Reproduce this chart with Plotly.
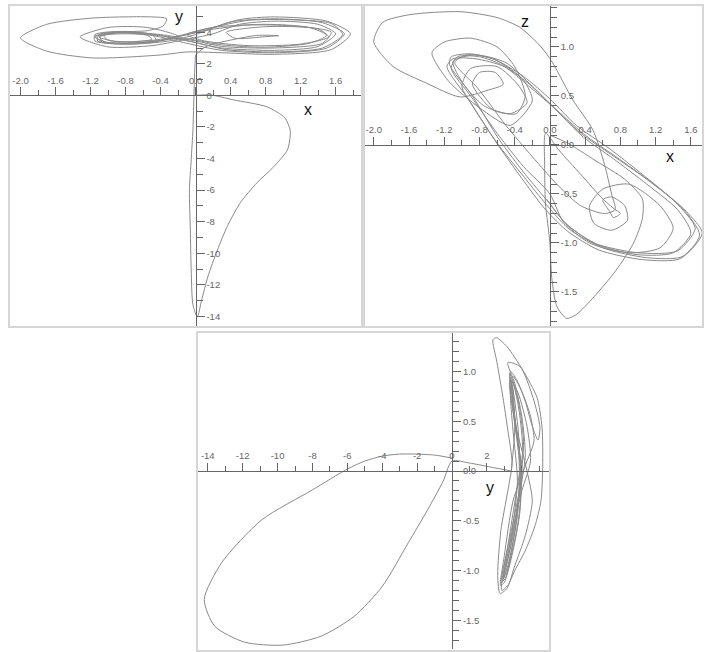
import plotly.graph_objects as go

# ---------------- tick values ----------------
p1_x_ticks = [-2.0, -1.6, -1.2, -0.8, -0.4, 0.0, 0.4, 0.8, 1.2, 1.6]
p1_x_minor = [-1.8, -1.4, -1.0, -0.6, -0.2, 0.2, 0.6, 1.0, 1.4, 1.8]
p1_y_ticks = [-14, -12, -10, -8, -6, -4, -2, 0, 2, 4]
p1_y_minor = [-13, -11, -9, -7, -5, -3, -1, 1, 3, 5]
p2_x_ticks = [-2.0, -1.6, -1.2, -0.8, -0.4, 0.0, 0.4, 0.8, 1.2, 1.6]
p2_x_minor = [-1.8, -1.4, -1.0, -0.6, -0.2, 0.2, 0.6, 1.0, 1.4]
p2_z_ticks = [-1.5, -1.0, -0.5, 0.0, 0.5, 1.0]
p2_z_minor = [-1.8, -1.7, -1.6, -1.4, -1.3, -1.2, -1.1, -0.9, -0.8, -0.7, -0.6,
              -0.4, -0.3, -0.2, -0.1, 0.1, 0.2, 0.3, 0.4, 0.6, 0.7, 0.8, 0.9,
              1.1, 1.2, 1.3, 1.4]
p3_y_ticks = [-14, -12, -10, -8, -6, -4, -2, 0, 2]
p3_y_minor = [-13, -11, -9, -7, -5, -3, -1, 1, 3, 4, 5]
p3_z_ticks = [-1.5, -1.0, -0.5, 0.0, 0.5, 1.0]
p3_z_minor = [-1.7, -1.6, -1.4, -1.3, -1.2, -1.1, -0.9, -0.8, -0.7, -0.6,
              -0.4, -0.3, -0.2, -0.1, 0.1, 0.2, 0.3, 0.4, 0.6, 0.7, 0.8, 0.9,
              1.1, 1.2, 1.3]

# ---------------- panel 1 : x - y ----------------
p1_transient = [
    (0.0, 0.0), (0.17, 0.03), (0.43, -0.28), (0.82, -0.73), (1.02, -1.42),
    (1.08, -2.18), (1.08, -2.63), (1.05, -3.45), (0.89, -4.53), (0.70, -5.54),
    (0.51, -6.80), (0.36, -8.32), (0.25, -9.78), (0.14, -11.49), (0.07, -12.94),
    (0.02, -14.02), (-0.03, -13.26), (-0.05, -11.04), (-0.06, -8.51),
    (-0.07, -5.98), (-0.05, -4.08), (-0.03, -2.18), (-0.02, -0.28),
    (-0.01, 1.61), (0.0, 2.56)]
p1_attractor = [
    (0.0, 2.56), (0.12, 3.1), (0.4, 3.5), (0.7, 3.8), (0.95, 3.78), (0.8, 3.72),
    (0.45, 3.62), (0.35, 4.0), (0.8, 4.35), (1.4, 4.2), (1.52, 3.7),
    (1.2, 3.25), (0.6, 3.15), (0.1, 3.45),
    (-0.1, 3.85), (0.2, 4.3), (0.8, 4.5), (1.3, 4.3), (1.5, 3.8),
    (1.3, 3.3), (0.8, 3.05), (0.3, 3.2), (-0.05, 3.55),
    (-0.4, 3.85), (-0.8, 4.0), (-1.05, 3.8), (-1.0, 3.5), (-0.75, 3.4),
    (-0.5, 3.55), (-0.55, 3.8), (-0.85, 3.9), (-1.1, 3.75), (-1.05, 3.4),
    (-0.7, 3.3), (-0.35, 3.5), (-0.2, 3.75), (-0.55, 4.3), (-1.0, 4.3),
    (-1.32, 3.7), (-1.0, 3.07), (-0.5, 3.15), (-0.15, 3.5),
    (0.2, 3.9), (0.5, 4.5), (0.9, 4.7), (1.4, 4.5), (1.6, 3.9), (1.4, 3.1),
    (0.9, 2.85), (0.3, 3.0), (-0.05, 3.4),
    (-0.4, 3.8), (-0.8, 4.05), (-1.1, 3.85), (-1.12, 3.45), (-0.8, 3.3),
    (-0.45, 3.5), (-0.5, 3.85), (-0.9, 4.0), (-1.15, 3.75), (-1.05, 3.35),
    (-0.7, 3.25), (-0.3, 3.45),
    (0.0, 3.85), (0.4, 4.65), (0.9, 4.85), (1.45, 4.6), (1.7, 3.9), (1.5, 3.0),
    (0.9, 2.7), (0.3, 2.85), (-0.1, 3.3),
    (-0.45, 3.75), (-0.85, 4.05), (-1.15, 3.85), (-1.15, 3.45), (-0.85, 3.25),
    (-0.5, 3.35), (-0.3, 3.6),
    (0.1, 4.1), (0.5, 4.8), (0.9, 4.97), (1.5, 4.7), (1.77, 3.9), (1.55, 2.9),
    (0.9, 2.6), (0.3, 2.7), (-0.1, 2.75),
    (-0.4, 2.56), (-1.17, 2.37), (-1.7, 2.8), (-2.0, 3.64), (-1.7, 4.5),
    (-1.17, 4.9), (-0.5, 4.97), (-0.33, 4.85), (-0.37, 4.4), (-0.55, 4.1),
    (-0.9, 4.0), (-1.15, 3.7), (-1.0, 3.35), (-0.6, 3.35), (-0.3, 3.6),
    (0.1, 4.1), (0.6, 4.45), (1.1, 4.4), (1.55, 4.0), (1.45, 3.3), (0.9, 3.0),
    (0.3, 3.1), (0.0, 3.45),
    (-0.45, 3.8), (-0.9, 3.95), (-1.1, 3.7), (-0.9, 3.4), (-0.55, 3.45),
    (-0.25, 3.7),
    (0.15, 4.25), (0.6, 4.75), (1.0, 4.8), (1.55, 4.55), (1.68, 3.85),
    (1.45, 3.0), (0.9, 2.75), (0.35, 2.9), (0.0, 3.35), (-0.35, 3.75)]

# ---------------- panel 2 : x - z ----------------
p2_transient = [
    (0.0, 0.1), (0.2, 0.02), (0.5, -0.15), (0.85, -0.35), (1.05, -0.55),
    (1.05, -0.75), (0.95, -1.0), (0.75, -1.28), (0.5, -1.55), (0.3, -1.73),
    (0.19, -1.77), (0.08, -1.65), (0.02, -1.35), (0.0, -1.0), (-0.05, -0.6),
    (-0.06, -0.2), (-0.05, 0.12), (0.1, -0.05), (0.35, -0.3), (0.6, -0.55),
    (0.74, -0.66)]
p2_attractor = [
    (0.74, -0.66), (0.8, -0.7), (0.72, -0.74), (0.68, -0.68), (0.6, -0.56),
    (0.7, -0.53), (0.85, -0.62), (0.88, -0.77), (0.7, -0.87), (0.5, -0.8),
    (0.45, -0.62), (0.6, -0.45),
    (0.9, -0.4), (1.25, -0.62), (1.4, -0.85), (1.25, -1.05), (0.9, -1.1),
    (0.45, -1.0), (0.15, -0.78), (0.0, -0.5),
    (-0.3, -0.22), (-0.6, 0.12), (-0.9, 0.5), (-1.12, 0.78), (-1.05, 0.9),
    (-0.8, 0.9), (-0.55, 0.82), (-0.26, 0.64), (0.0, 0.42), (0.35, 0.12),
    (0.7, -0.1), (1.1, -0.35), (1.5, -0.64), (1.7, -0.92), (1.5, -1.14),
    (1.1, -1.15), (0.6, -1.05), (0.22, -0.86), (-0.03, -0.62), (-0.3, -0.32),
    (-0.6, 0.02), (-0.88, 0.4), (-1.0, 0.6), (-0.9, 0.78), (-0.6, 0.8),
    (-0.35, 0.6), (-0.26, 0.43), (-0.45, 0.32), (-0.75, 0.4), (-0.98, 0.62),
    (-1.1, 0.85), (-0.85, 0.92), (-0.5, 0.84), (-0.2, 0.6),
    (0.05, 0.38), (0.4, 0.1), (0.75, -0.12), (1.15, -0.38), (1.55, -0.68),
    (1.73, -0.9), (1.48, -1.16), (1.05, -1.17), (0.55, -1.07), (0.2, -0.88),
    (-0.05, -0.66), (-0.32, -0.34), (-0.62, 0.04), (-0.92, 0.46),
    (-1.17, 0.8), (-1.1, 0.88), (-0.85, 0.88), (-0.52, 0.8), (-0.24, 0.6),
    (0.02, 0.4), (0.38, 0.08), (0.72, -0.14), (1.1, -0.4), (1.45, -0.66),
    (1.6, -0.9), (1.4, -1.1), (1.0, -1.12), (0.55, -1.02), (0.2, -0.82),
    (-0.02, -0.58), (-0.28, -0.3), (-0.58, 0.06), (-0.88, 0.5), (-1.14, 0.82),
    (-1.12, 0.9), (-0.9, 0.93), (-0.6, 0.86), (-0.3, 0.66), (-0.2, 0.45),
    (-0.45, 0.2), (-0.8, 0.38), (-1.15, 0.65), (-1.34, 0.94), (-1.2, 1.05),
    (-0.9, 1.09), (-0.6, 1.0), (-0.4, 0.8), (-0.28, 0.5), (-0.38, 0.32),
    (-0.65, 0.36), (-0.88, 0.62), (-0.8, 0.74), (-0.62, 0.74), (-0.53, 0.62),
    (-0.7, 0.56), (-1.02, 0.49), (-1.4, 0.63), (-1.78, 0.8), (-2.0, 1.05),
    (-1.9, 1.25), (-1.59, 1.33), (-1.02, 1.36), (-0.6, 1.3), (-0.34, 1.2),
    (-0.1, 1.0), (0.03, 0.84), (0.26, 0.46), (0.49, 0.15), (0.62, -0.2),
    (0.7, -0.5), (0.74, -0.66), (0.62, -0.7), (0.35, -0.62), (0.1, -0.42),
    (-0.2, -0.12), (-0.5, 0.2), (-0.82, 0.58), (-1.08, 0.84), (-0.95, 0.92),
    (-0.65, 0.88), (-0.3, 0.7), (0.0, 0.47), (0.3, 0.2), (0.68, -0.04),
    (1.05, -0.3), (1.42, -0.58), (1.65, -0.85), (1.45, -1.08), (1.0, -1.1),
    (0.5, -1.0), (0.18, -0.8), (-0.04, -0.55)]

# ---------------- panel 3 : y - z ----------------
p3_transient = [
    (0.0, 0.13), (-1.0, 0.16), (-2.1, 0.17), (-3.0, 0.17), (-4.0, 0.15),
    (-5.0, 0.1), (-6.0, 0.02), (-8.0, -0.19), (-10.9, -0.49), (-13.2, -0.92),
    (-14.2, -1.29), (-13.6, -1.56), (-11.9, -1.72), (-9.7, -1.75),
    (-7.5, -1.66), (-5.6, -1.46), (-4.0, -1.16), (-2.5, -0.72), (-1.4, -0.39),
    (-0.5, -0.1), (0.0, 0.1), (1.0, 0.08), (2.2, 0.04), (3.4, 0.0)]
p3_attractor = [
    (3.4, 0.0), (3.6, 0.45), (3.45, 0.85), (3.35, 0.8), (3.5, 0.4),
    (3.75, -0.1), (3.45, -0.6), (2.95, -1.05), (3.05, -1.0), (3.55, -0.6),
    (3.9, -0.1), (3.8, 0.4), (3.5, 0.82), (3.38, 0.92),
    (3.6, 0.55), (3.95, 0.0), (3.65, -0.55), (3.05, -1.08), (2.82, -1.12),
    (3.2, -0.75), (3.7, -0.2), (4.05, 0.2), (3.85, 0.6), (3.5, 0.9),
    (3.3, 0.98),
    (3.5, 0.6), (3.85, 0.1), (3.75, -0.45), (3.2, -0.95), (2.9, -1.1),
    (3.3, -0.8), (3.85, -0.25), (4.2, 0.15), (4.0, 0.55), (3.6, 0.88),
    (3.2, 1.09), (3.9, 1.05), (4.64, 0.74), (5.04, 0.44), (4.93, 0.31),
    (4.6, 0.45), (4.2, 0.7), (3.7, 0.92), (3.35, 1.0), (3.55, 0.6),
    (3.95, 0.05), (3.9, -0.4), (3.5, -0.8), (3.0, -1.12), (2.78, -1.15),
    (3.0, -0.85), (3.5, -0.3), (4.3, 0.1), (4.7, 0.3), (4.5, 0.55),
    (4.0, 0.8), (3.5, 0.95), (3.3, 0.9), (3.6, 0.5), (4.3, 0.0),
    (4.6, -0.3), (4.2, -0.65), (3.6, -0.95), (3.15, -1.18), (2.75, -1.23),
    (2.62, -1.05), (2.8, -0.6), (3.2, -0.2), (3.44, 0.08), (3.2, 0.41),
    (2.92, 0.74), (2.58, 1.09), (2.35, 1.32), (2.55, 1.34), (3.15, 1.25),
    (4.07, 1.01), (4.87, 0.74), (5.16, 0.44), (5.2, 0.05), (5.1, -0.3),
    (4.76, -0.55), (4.2, -0.8), (3.6, -1.0), (3.2, -1.15), (2.85, -1.2),
    (2.95, -1.0), (3.4, -0.6), (3.9, -0.15), (4.1, 0.3), (3.8, 0.7),
    (3.45, 0.9),
    (3.6, 0.5), (4.0, 0.0), (3.8, -0.5), (3.25, -0.95), (2.95, -1.08),
    (3.35, -0.7), (4.0, -0.2), (4.5, 0.1), (4.3, 0.45), (3.8, 0.78),
    (3.4, 0.92)]

# ---------------- layout helpers ----------------
W, H = 705, 652
AX = "#666666"
TICKFONT = dict(family="Liberation Sans, Arial, sans-serif", size=9.5, color="#666666")
CURVE = dict(color="#8a8a8a", width=1, shape="spline", smoothing=0.7)


def xdom(a, b):
    return [a / W, b / W]


def ydom(top, bottom):
    return [1 - bottom / H, 1 - top / H]


def fmt(v, dec):
    return f"{v:.{dec}f}"


def h_axis(dx, dy, rng, other_rng, ticks, minor, dec, minor_len=5):
    pos = dy[0] + (0 - other_rng[0]) / (other_rng[1] - other_rng[0]) * (dy[1] - dy[0])
    return dict(domain=dx, range=list(rng), anchor="free", position=pos,
                side="top", showgrid=False, zeroline=False, showline=True,
                linecolor=AX, linewidth=1, ticks="outside", ticklen=8,
                tickcolor=AX, tickwidth=1, tickmode="array", tickvals=ticks,
                ticktext=[fmt(v, dec) for v in ticks], tickfont=TICKFONT,
                fixedrange=True,
                minor=dict(tickmode="array", tickvals=minor, ticks="outside",
                           ticklen=minor_len, tickcolor=AX, tickwidth=1,
                           showgrid=False))


def v_axis(dy, dx, rng, other_rng, ticks, minor, dec, minor_len=6):
    pos = dx[0] + (0 - other_rng[0]) / (other_rng[1] - other_rng[0]) * (dx[1] - dx[0])
    return dict(domain=dy, range=list(rng), anchor="free", position=pos,
                side="right", showgrid=False, zeroline=False, showline=True,
                linecolor=AX, linewidth=1, ticks="outside", ticklen=8,
                tickcolor=AX, tickwidth=1, tickmode="array", tickvals=ticks,
                ticktext=[fmt(v, dec) for v in ticks], tickfont=TICKFONT,
                fixedrange=True,
                minor=dict(tickmode="array", tickvals=minor, ticks="outside",
                           ticklen=minor_len, tickcolor=AX, tickwidth=1,
                           showgrid=False))


# panel geometry (pixels) and data ranges
p1_dx, p1_dy = xdom(10, 361), ydom(6, 326)
p1_xr, p1_yr = (-2.12, 1.89), (-14.6, 5.66)
p2_dx, p2_dy = xdom(365, 702), ydom(6, 326)
p2_xr, p2_zr = (-2.10, 1.727), (-1.847, 1.418)
p3_dx, p3_dy = xdom(198, 549), ydom(333, 649)
p3_yr, p3_zr = (-14.56, 5.56), (-1.789, 1.387)

fig = go.Figure()


def add_curve(pts, xa, ya):
    fig.add_trace(go.Scatter(x=[p[0] for p in pts], y=[p[1] for p in pts],
                             mode="lines", line=CURVE, xaxis=xa, yaxis=ya,
                             hoverinfo="skip", showlegend=False))


add_curve(p1_transient, "x", "y")
add_curve(p1_attractor, "x", "y")
add_curve(p2_transient, "x2", "y2")
add_curve(p2_attractor, "x2", "y2")
add_curve(p3_transient, "x3", "y3")
add_curve(p3_attractor, "x3", "y3")

border = dict(color="#d6d6d6", width=2)
shapes = []
for (l, t, r, b) in [(9, 5, 362, 327), (364, 5, 703, 327), (197, 332, 550, 651)]:
    shapes.append(dict(type="rect", xref="paper", yref="paper",
                       x0=l / W, x1=r / W, y0=1 - b / H, y1=1 - t / H,
                       line=border, fillcolor="rgba(0,0,0,0)", layer="below"))

LBL = dict(family="Liberation Sans, Arial, sans-serif", size=16, color="#111111")
annotations = [
    dict(text="y", x=-0.19, y=4.97, xref="x", yref="y", showarrow=False, font=LBL),
    dict(text="x", x=1.29, y=-0.92, xref="x", yref="y", showarrow=False, font=LBL),
    dict(text="z", x=-0.28, y=1.255, xref="x2", yref="y2", showarrow=False, font=LBL),
    dict(text="x", x=1.36, y=-0.12, xref="x2", yref="y2", showarrow=False, font=LBL),
    dict(text="y", x=2.18, y=-0.17, xref="x3", yref="y3", showarrow=False, font=LBL),
]

fig.update_layout(
    width=W, height=H, margin=dict(l=0, r=0, t=0, b=0),
    paper_bgcolor="white", plot_bgcolor="white", showlegend=False,
    xaxis=h_axis(p1_dx, p1_dy, p1_xr, p1_yr, p1_x_ticks, p1_x_minor, 1),
    yaxis=v_axis(p1_dy, p1_dx, p1_yr, p1_xr, p1_y_ticks, p1_y_minor, 0),
    xaxis2=h_axis(p2_dx, p2_dy, p2_xr, p2_zr, p2_x_ticks, p2_x_minor, 1),
    yaxis2=v_axis(p2_dy, p2_dx, p2_zr, p2_xr, p2_z_ticks, p2_z_minor, 1),
    xaxis3=h_axis(p3_dx, p3_dy, p3_yr, p3_zr, p3_y_ticks, p3_y_minor, 0),
    yaxis3=v_axis(p3_dy, p3_dx, p3_zr, p3_yr, p3_z_ticks, p3_z_minor, 1),
    shapes=shapes, annotations=annotations,
)

fig.write_html("out.html", config={"displayModeBar": False},
               post_script="document.body.style.margin='0';document.body.style.padding='0';")
